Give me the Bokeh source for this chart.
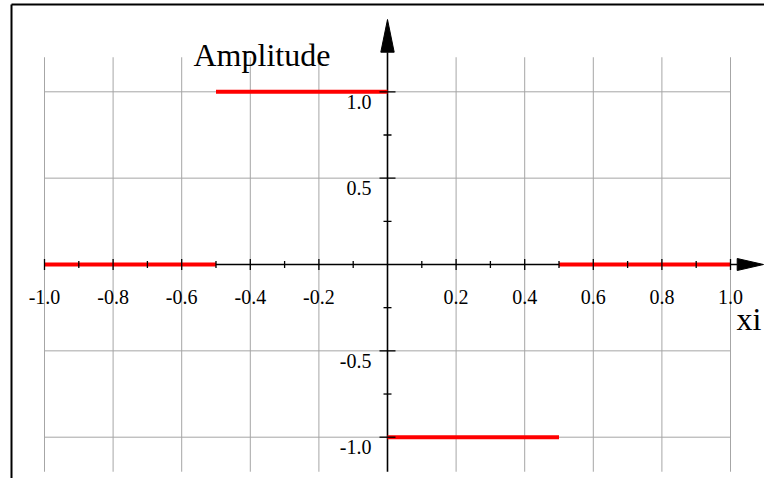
import numpy as np
from bokeh.plotting import figure
from bokeh.models import Range1d
from bokeh.core.properties import value
from bokeh.embed import file_html
from bokeh.resources import INLINE

# ---- data -------------------------------------------------------------
seg_x_start = [-1.0, -0.5, 0.0, 0.5]
seg_x_end = [-0.5, 0.0, 0.5, 1.0]
seg_amp = [0.0, 1.0, -1.0, 0.0]

x_major = [-1.0, -0.8, -0.6, -0.4, -0.2, 0.2, 0.4, 0.6, 0.8, 1.0]
x_major_labels = ["-1.0", "-0.8", "-0.6", "-0.4", "-0.2", "0.2", "0.4", "0.6", "0.8", "1.0"]
x_minor = [-0.9, -0.7, -0.5, -0.3, -0.1, 0.1, 0.3, 0.5, 0.7, 0.9]
x_grid = [-1.0, -0.8, -0.6, -0.4, -0.2, 0.2, 0.4, 0.6, 0.8, 1.0]

y_major = [-1.0, -0.5, 0.5, 1.0]
y_major_labels = ["-1.0", "-0.5", "0.5", "1.0"]
y_minor = [-0.75, -0.25, 0.25, 0.75]
y_grid = [-1.0, -0.5, 0.5, 1.0]

x_lim = [-1.0, 1.0]
y_lim = [-1.2, 1.2]

x_title = "xi"
y_title = "Amplitude"

# ---- layout -----------------------------------------------------------
W, H = 764, 478
OX, OY = 387.0, 264.0       # canvas pixel position of the origin
SX, SY = 343.0, 172.7       # pixels per data unit

def px_x(px):
    return (px - OX) / SX

def px_y(py):
    return (OY - py) / SY

p = figure(width=W, height=H, output_backend="svg", toolbar_location=None,
           x_range=Range1d(px_x(0), px_x(W)), y_range=Range1d(px_y(H), px_y(0)),
           x_axis_type=None, y_axis_type=None, min_border=0,
           outline_line_color=None, background_fill_color="white",
           border_fill_color="white")
p.grid.visible = False

FONT = value("Liberation Serif")
GRID_COL = "#a6a6a6"

# grid
p.segment(x0=x_grid, y0=[y_lim[0]] * len(x_grid), x1=x_grid, y1=[y_lim[1]] * len(x_grid),
          line_color=GRID_COL, line_width=1)
p.segment(x0=[x_lim[0]] * len(y_grid), y0=y_grid, x1=[x_lim[1]] * len(y_grid), y1=y_grid,
          line_color=GRID_COL, line_width=1)

# border (left and top edges of the outer frame)
bx, by = px_x(11), px_y(4)
p.segment(x0=[bx, bx], y0=[by, by], x1=[bx, px_x(W + 10)], y1=[px_y(H + 10), by],
          line_color="black", line_width=2)

# axes lines
arrow_x_base, arrow_x_tip = px_x(736.7), px_x(763)
arrow_y_base, arrow_y_tip = px_y(51.7), px_y(19)
p.segment(x0=[x_lim[0], 0], y0=[0, y_lim[0]], x1=[arrow_x_base, 0], y1=[0, arrow_y_base],
          line_color="black", line_width=1.6)

# step function
p.segment(x0=seg_x_start, y0=seg_amp, x1=seg_x_end, y1=seg_amp,
          line_color="#ff0000", line_width=4)

# ticks
p.scatter(x=x_major, y=[0] * len(x_major), marker="dash", angle=np.pi / 2, size=11,
          line_color="black", line_width=1.3)
p.scatter(x=x_minor, y=[0] * len(x_minor), marker="dash", angle=np.pi / 2, size=7,
          line_color="black", line_width=1.3)
p.scatter(x=[0] * len(y_major), y=y_major, marker="dash", size=16,
          line_color="black", line_width=1.3)
p.scatter(x=[0] * len(y_minor), y=y_minor, marker="dash", size=8,
          line_color="black", line_width=1.3)

# arrow heads
hw_x = 6.0 / SY
hw_y = 6.7 / SX
p.patch(x=[arrow_x_base, arrow_x_tip, arrow_x_base], y=[hw_x, 0, -hw_x],
        fill_color="black", line_color="black", line_width=1)
p.patch(x=[-hw_y, 0, hw_y], y=[arrow_y_base, arrow_y_tip, arrow_y_base],
        fill_color="black", line_color="black", line_width=1)

# tick labels
p.text(x=x_major, y=[0] * len(x_major), text=x_major_labels, text_align="center",
       text_baseline="alphabetic", y_offset=32, text_font=FONT, text_font_size="20px",
       text_color="black")
p.text(x=[0] * len(y_major), y=y_major, text=y_major_labels, text_align="right",
       text_baseline="alphabetic", x_offset=-16, y_offset=10, text_font=FONT,
       text_font_size="20px", text_color="black")

# axis titles
p.text(x=[0], y=[y_lim[1]], text=[y_title], text_align="left", text_baseline="alphabetic",
       x_offset=-194, y_offset=-2, text_font=FONT, text_font_size="32px", text_color="black")
p.text(x=[x_lim[1]], y=[0], text=[x_title], text_align="left", text_baseline="alphabetic",
       x_offset=6, y_offset=54, text_font=FONT, text_font_size="32px", text_color="black")

open("out.html", "w").write(file_html(p, INLINE))
